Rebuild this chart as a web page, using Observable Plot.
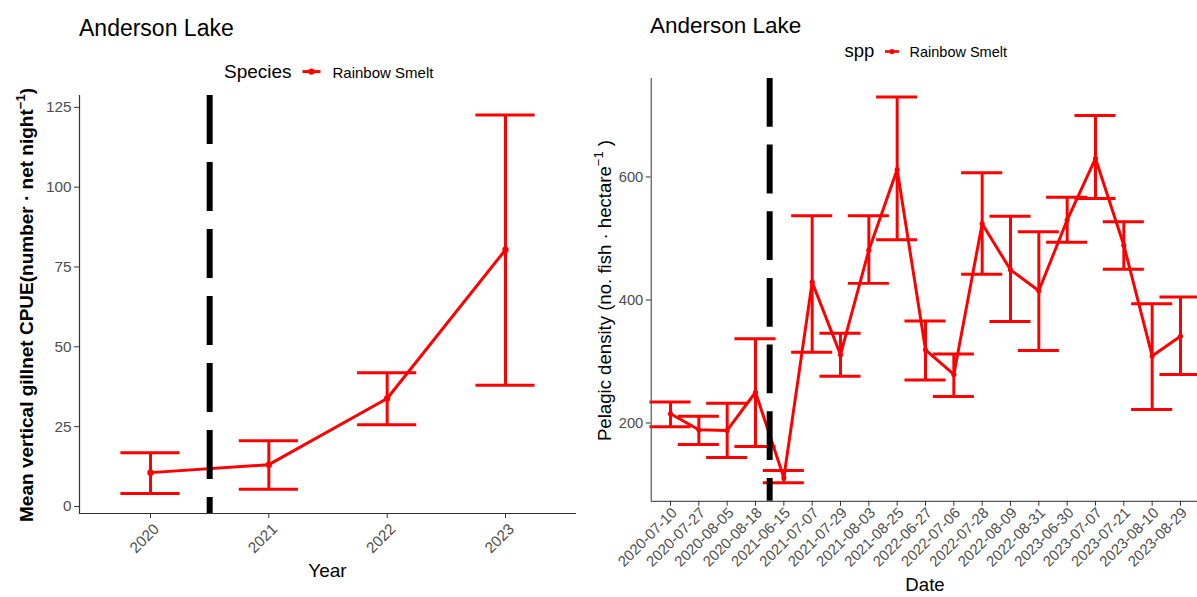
<!DOCTYPE html>
<html><head><meta charset="utf-8">
<script src="https://cdn.jsdelivr.net/npm/d3@7"></script>
<script src="https://cdn.jsdelivr.net/npm/@observablehq/plot@0.6"></script>
<style>
html,body{margin:0;padding:0;background:#fff;}
body{width:1197px;height:597px;overflow:hidden;position:relative;font-family:"Liberation Sans",Arial,sans-serif;}
.panel{position:absolute;}
#overlay{position:absolute;left:0;top:0;pointer-events:none;}
</style></head><body>
<div id="leftPlot" class="panel" style="left:0;top:85px"></div>
<div id="rightPlot" class="panel" style="left:600px;top:70px"></div>
<script>
// ---------- Data: left chart (vertical gillnet CPUE by year) ----------
const years = [2020, 2021, 2022, 2023];
const cpueMean = [10.6, 13.1, 33.8, 80.4];
const cpueLow = [4.1, 5.4, 25.6, 38.0];
const cpueHigh = [16.8, 20.6, 41.9, 122.6];
const cpueTicks = [0, 25, 50, 75, 100, 125];
const breakYear = 2020.5;

// ---------- Data: right chart (pelagic density by survey date) ----------
const dates = ["2020-07-10","2020-07-27","2020-08-05","2020-08-18","2021-06-15","2021-07-07","2021-07-29","2021-08-03","2021-08-25","2022-06-27","2022-07-06","2022-07-28","2022-08-09","2022-08-31","2023-06-30","2023-07-07","2023-07-21","2023-08-10","2023-08-29"];
const densMean = [215, 189, 188, 250, 111, 429, 311, 481, 612, 319, 279, 524, 449, 415, 530, 630, 489, 309, 341];
const densLow  = [194, 165, 144, 162, 103, 315, 276, 427, 498, 270, 243, 442, 365, 318, 494, 565, 450, 222, 279];
const densHigh = [234, 211, 232, 337, 123, 537, 346, 537, 730, 366, 312, 607, 536, 511, 567, 700, 527, 394, 405];
const densTicks = [200, 400, 600];
const breakDate = 3.5; // between 2020-08-18 and 2021-06-15

const species = "Rainbow Smelt";
const lakeName = "Anderson Lake";

const RED = "#FF0000";
const FONT = "Liberation Sans, Arial, sans-serif";

// ---------- Left plot ----------
const leftData = years.map((y, i) => ({year: y, mean: cpueMean[i], lo: cpueLow[i], hi: cpueHigh[i]}));
const xL = [2019.4, 2023.6];
const yL = [-2.2, 128.7];
const leftPlot = Plot.plot({
  width: 600, height: 512,
  marginTop: 10, marginBottom: 84, marginLeft: 79, marginRight: 24,
  style: {fontFamily: FONT, background: "transparent", overflow: "visible"},
  x: {type: "linear", domain: xL},
  y: {type: "linear", domain: yL},
  marks: [
    Plot.ruleX(leftData, {x: "year", y1: "lo", y2: "hi", stroke: RED, strokeWidth: 3}),
    Plot.ruleY(leftData, {y: "lo", x1: d => d.year - 0.25, x2: d => d.year + 0.25, stroke: RED, strokeWidth: 3}),
    Plot.ruleY(leftData, {y: "hi", x1: d => d.year - 0.25, x2: d => d.year + 0.25, stroke: RED, strokeWidth: 3}),
    Plot.line(leftData, {x: "year", y: "mean", stroke: RED, strokeWidth: 3}),
    Plot.dot(leftData, {x: "year", y: "mean", fill: RED, r: 3.2}),
    Plot.ruleX([breakYear], {stroke: "black", strokeWidth: 6, strokeDasharray: "49,18"}),
    Plot.ruleX([xL[0]], {stroke: "#333", strokeWidth: 1.2}),
    Plot.ruleY([yL[0]], {stroke: "#333", strokeWidth: 1.2}),
    Plot.axisX({ticks: years, tickFormat: d => String(d), text: null, tickSize: 5, stroke: "#333", label: null}),
    Plot.axisX({ticks: years, tickFormat: d => String(d), tickRotate: -45, tickSize: 0, tickPadding: 8, dx: 6, dy: 5, fontSize: 15.3, fill: "#4D4D4D", label: null}),
    Plot.axisY({ticks: cpueTicks, tickSize: 5, tickPadding: 3, fontSize: 15.3, stroke: "#333", fill: "#4D4D4D", label: null})
  ]
});
document.getElementById("leftPlot").appendChild(leftPlot);

// ---------- Right plot ----------
const rightData = dates.map((d, i) => ({i, date: d, mean: densMean[i], lo: densLow[i], hi: densHigh[i]}));
const xR = [-0.68, 18.6];
const yR = [72.7, 760.1];
const capR = 0.725;
const rightPlot = Plot.plot({
  width: 600, height: 527,
  marginTop: 8, marginBottom: 94, marginLeft: 51, marginRight: 0,
  style: {fontFamily: FONT, background: "transparent", overflow: "visible"},
  x: {type: "linear", domain: xR},
  y: {type: "linear", domain: yR},
  marks: [
    Plot.ruleX(rightData, {x: "i", y1: "lo", y2: "hi", stroke: RED, strokeWidth: 3}),
    Plot.ruleY(rightData, {y: "lo", x1: d => d.i - capR, x2: d => d.i + capR, stroke: RED, strokeWidth: 3}),
    Plot.ruleY(rightData, {y: "hi", x1: d => d.i - capR, x2: d => d.i + capR, stroke: RED, strokeWidth: 3}),
    Plot.line(rightData, {x: "i", y: "mean", stroke: RED, strokeWidth: 3}),
    Plot.dot(rightData, {x: "i", y: "mean", fill: RED, r: 2.6}),
    Plot.ruleX([breakDate], {stroke: "black", strokeWidth: 6, strokeDasharray: "49,18"}),
    Plot.ruleX([xR[0]], {stroke: "#555", strokeWidth: 1.2}),
    Plot.ruleY([yR[0]], {stroke: "#555", strokeWidth: 1.2}),
    Plot.axisX({ticks: d3.range(dates.length), text: null, tickSize: 5, stroke: "#333", label: null}),
    Plot.axisX({ticks: d3.range(dates.length), tickFormat: i => dates[i], tickRotate: -45, tickSize: 0, tickPadding: 8, dx: 4, dy: 1, fontSize: 15, fill: "#4D4D4D", label: null}),
    Plot.axisY({ticks: densTicks, tickSize: 5, tickPadding: 3, fontSize: 14.8, stroke: "#333", fill: "#4D4D4D", label: null})
  ]
});
document.getElementById("rightPlot").appendChild(rightPlot);

// ---------- Titles, legends, axis titles ----------
const svg = d3.select("body").append("svg").attr("id", "overlay")
  .attr("width", 1197).attr("height", 597).style("font-family", FONT);

svg.append("text").attr("x", 79).attr("y", 36).attr("font-size", 23).attr("fill", "#000").text(lakeName);
svg.append("text").attr("x", 650).attr("y", 32.5).attr("font-size", 22.5).attr("fill", "#000").text(lakeName);

// left legend
svg.append("text").attr("x", 224).attr("y", 78).attr("font-size", 19).attr("fill", "#000").text("Species");
svg.append("line").attr("x1", 302.5).attr("x2", 320.5).attr("y1", 71.6).attr("y2", 71.6).attr("stroke", RED).attr("stroke-width", 3);
svg.append("circle").attr("cx", 311.5).attr("cy", 71.6).attr("r", 3.2).attr("fill", RED);
svg.append("text").attr("x", 332.5).attr("y", 77.5).attr("font-size", 15).attr("fill", "#000").text(species);

// right legend
svg.append("text").attr("x", 844.5).attr("y", 57).attr("font-size", 18.5).attr("fill", "#000").text("spp");
svg.append("line").attr("x1", 885).attr("x2", 899).attr("y1", 51.5).attr("y2", 51.5).attr("stroke", RED).attr("stroke-width", 2.6);
svg.append("circle").attr("cx", 892).attr("cy", 51.5).attr("r", 2.6).attr("fill", RED);
svg.append("text").attr("x", 909.5).attr("y", 57).attr("font-size", 14.5).attr("fill", "#000").text(species);

// left y title (bold, with superscript)
const ly = svg.append("text").attr("transform", "translate(33,305) rotate(-90)")
  .attr("text-anchor", "middle").attr("font-size", 19).attr("font-weight", "bold").attr("fill", "#000");
ly.append("tspan").text("Mean vertical gillnet CPUE(number \u00B7 net night");
ly.append("tspan").attr("font-size", 13).attr("dy", -8).text("\u22121");
ly.append("tspan").attr("dy", 8).text(")");

// right y title
const ry = svg.append("text").attr("transform", "translate(611,290.5) rotate(-90)")
  .attr("text-anchor", "middle").attr("font-size", 18.6).attr("fill", "#000");
ry.append("tspan").text("Pelagic density (no. fish \u00B7 hectare");
ry.append("tspan").attr("font-size", 13).attr("dy", -8).text("\u22121");
ry.append("tspan").attr("dy", 8).text(" )");

// x titles
svg.append("text").attr("x", 327.5).attr("y", 577).attr("text-anchor", "middle").attr("font-size", 19).attr("fill", "#000").text("Year");
svg.append("text").attr("x", 925).attr("y", 591).attr("text-anchor", "middle").attr("font-size", 18.6).attr("fill", "#000").text("Date");
</script>
</body></html>
